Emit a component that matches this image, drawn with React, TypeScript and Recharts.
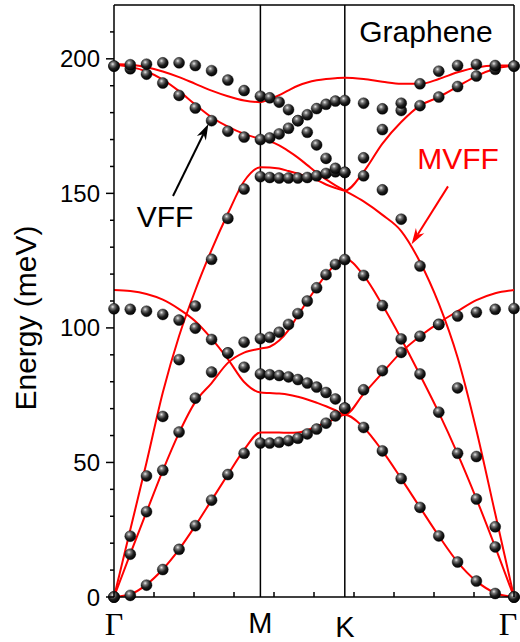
import {
  ComposedChart,
  Line,
  Scatter,
  XAxis,
  YAxis,
  ReferenceLine,
  ReferenceDot,
} from "recharts";

// k-path coordinate along Γ–M–K–Γ, path length normalised to 1
const kPath = [
  0, 0.0407, 0.0813, 0.122, 0.1627, 0.2033, 0.244, 0.2847, 0.3253, 0.366,
  0.3894, 0.4129, 0.4363, 0.4597, 0.4832, 0.5066, 0.5301, 0.5535, 0.577,
  0.624, 0.671, 0.718, 0.765, 0.812, 0.859, 0.906, 0.953, 1.0,
];

const symmetryX = [0, 0.366, 0.577, 1];
const symmetryLabels = ["Γ", "M", "K", "Γ"];
const minorX = [0, 0.1, 0.2, 0.3, 0.4, 0.5, 0.6, 0.7, 0.8, 0.9, 1];
const energyTicks = [0, 10, 20, 30, 40, 50, 60, 70, 80, 90, 100, 110, 120, 130, 140, 150, 160, 170, 180, 190, 200, 210];

// VFF phonon energies (meV), one value per k-point
const vffZA = [0, 0.6, 4.4, 10.2, 17.7, 26.5, 36.0, 45.5, 53.4, 57.2, 57.2, 57.5, 58.1, 59.0, 60.6, 62.4, 64.6, 67.3, 70.2, 63.0, 54.3, 44.0, 33.3, 22.7, 13.0, 5.9, 1.3, 0];
const vffTA = [0, 15.9, 31.7, 47.1, 61.3, 73.9, 83.6, 90.7, 94.7, 96.0, 96.5, 98.4, 101.3, 105.3, 110.0, 114.9, 119.8, 123.6, 125.4, 119.5, 108.3, 95.9, 82.9, 68.7, 53.4, 36.4, 18.6, 0];
const vffLA = [0, 22.6, 45.0, 67.1, 88.2, 108.1, 125.5, 140.7, 151.6, 156.2, 155.9, 155.7, 155.7, 155.7, 155.9, 156.5, 157.4, 158.0, 157.8, 156.5, 151.3, 140.4, 123.0, 101.3, 77.7, 52.2, 26.1, 0];
const vffZO = [107.1, 106.9, 106.2, 105.0, 102.9, 99.9, 95.7, 90.7, 85.4, 82.9, 82.6, 82.3, 81.8, 80.8, 79.5, 78.0, 76.0, 73.6, 70.2, 77.0, 84.1, 90.9, 96.9, 101.3, 104.4, 105.8, 106.9, 107.2];
const vffTO = [197.3, 196.3, 194.3, 191.0, 186.4, 181.7, 177.0, 173.1, 170.9, 170.0, 170.6, 172.1, 174.2, 177.0, 179.2, 181.5, 183.1, 184.3, 184.5, 183.5, 181.4, 180.8, 182.6, 185.8, 189.7, 193.6, 196.1, 197.3];
const vffLO = [197.3, 197.8, 198.0, 198.5, 198.5, 197.5, 195.6, 192.1, 188.2, 186.1, 185.5, 183.9, 181.1, 177.0, 172.7, 168.0, 163.0, 159.3, 157.8, 163.2, 173.7, 183.5, 190.7, 195.4, 197.5, 197.9, 197.5, 197.3];

// MVFF branches (meV) on the same k-points
const mvffZA = [0, 1.0, 4.6, 10.3, 17.7, 26.5, 36.0, 45.5, 54.7, 61.1, 61.1, 61.1, 61.0, 61.1, 62.0, 63.4, 64.8, 66.2, 67.7, 63.0, 54.3, 44.0, 33.3, 22.7, 13.0, 5.9, 1.5, 0];
const mvffTA = [0, 16.0, 31.6, 47.0, 61.0, 72.5, 79.5, 87.0, 90.8, 92.3, 93.0, 95.3, 99.2, 104.6, 110.0, 115.0, 119.8, 123.6, 125.7, 119.5, 108.5, 96.0, 82.5, 68.5, 53.2, 36.5, 18.6, 0];
const mvffLA = [0, 25.0, 50.0, 76.0, 97.0, 114.0, 129.0, 142.5, 154.5, 159.7, 159.6, 159.2, 158.3, 157.3, 156.3, 155.0, 153.3, 152.0, 151.0, 158.0, 168.5, 176.5, 182.6, 185.8, 189.7, 193.6, 196.3, 197.5];
const mvffZO = [114.1, 113.7, 112.6, 110.5, 107.0, 102.5, 96.0, 88.4, 79.9, 76.0, 75.8, 75.6, 75.2, 74.4, 73.4, 72.2, 70.9, 69.4, 67.7, 75.5, 83.3, 91.0, 96.9, 101.9, 106.2, 110.3, 112.9, 114.1];
const mvffTO = [197.8, 197.0, 195.3, 192.3, 188.0, 183.0, 178.3, 174.8, 172.1, 170.2, 169.3, 167.8, 165.7, 163.3, 160.5, 157.7, 155.2, 153.0, 151.0, 147.0, 142.0, 136.0, 124.5, 109.0, 89.0, 62.0, 31.0, 0];
const mvffLO = [198.1, 197.8, 196.9, 195.3, 193.2, 190.7, 188.2, 186.1, 184.5, 183.9, 185.0, 186.5, 188.3, 190.0, 191.2, 192.0, 192.5, 192.8, 193.0, 192.5, 191.5, 190.7, 190.7, 192.5, 195.0, 196.8, 197.5, 197.5];

const vffBands = [vffZA, vffTA, vffLA, vffZO, vffTO, vffLO];
const mvffBands = [mvffZA, mvffTA, mvffLA, mvffZO, mvffTO, mvffLO];

const toRows = (band: number[]) => kPath.map((x, i) => ({ x, y: band[i] }));

const SANS = "'Liberation Sans', Arial, Helvetica, sans-serif";
const SERIF = "'Liberation Serif', 'Times New Roman', serif";

const Ball = ({ cx, cy }: any) => (
  <circle cx={cx} cy={cy} r={5.5} fill="url(#ball)" stroke="#000" strokeWidth={0.4} />
);

const EnergyTick = ({ x, y, payload }: any) => {
  const major = payload.value % 50 === 0;
  return (
    <g>
      <line x1={x} x2={x - (major ? 8 : 4)} y1={y} y2={y} stroke="#000" strokeWidth={1.5} />
      {major && (
        <text x={x - 14} y={y} textAnchor="end" dominantBaseline="central" fontSize={24} fill="#000" fontFamily={SANS}>
          {payload.value}
        </text>
      )}
    </g>
  );
};

const PathTick = ({ x, y, payload }: any) => {
  const v = payload.value;
  const idx = symmetryX.indexOf(v);
  const label = idx >= 0 ? symmetryLabels[idx] : null;
  // the closing Γ sits on the right frame, keep it inside the figure
  const lx = idx === symmetryX.length - 1 ? x - 6 : x;
  return (
    <g>
      {minorX.includes(v) && <line x1={x} x2={x} y1={y} y2={y - 5} stroke="#000" strokeWidth={1.5} />}
      {label === "Γ" && (
        <text x={lx} y={y + 38} textAnchor="middle" fontSize={32} fill="#000" fontFamily={SERIF}>
          Γ
        </text>
      )}
      {label && label !== "Γ" && (
        <text x={lx} y={y + (label === "K" ? 40 : 36)} textAnchor="middle" fontSize={29} fill="#000" fontFamily={SANS}>
          {label}
        </text>
      )}
    </g>
  );
};

const EnergyLabel = ({ viewBox }: any) => {
  const cx = viewBox.x + 25;
  const cy = viewBox.y + viewBox.height / 2 + 17;
  return (
    <text x={cx} y={cy} transform={`rotate(-90, ${cx}, ${cy})`} textAnchor="middle" dominantBaseline="central" fontSize={30} fill="#000" fontFamily={SANS}>
      Energy (meV)
    </text>
  );
};

// line with a filled head at its end point
const Arrow = ({ x1, y1, x2, y2, stroke }: any) => {
  const ang = Math.atan2(y2 - y1, x2 - x1);
  const len = 16;
  const half = 5;
  const bx = x2 - len * Math.cos(ang);
  const by = y2 - len * Math.sin(ang);
  const nx = -Math.sin(ang) * half;
  const ny = Math.cos(ang) * half;
  const mx = x2 - len * 0.7 * Math.cos(ang);
  const my = y2 - len * 0.7 * Math.sin(ang);
  return (
    <g>
      <line x1={x1} y1={y1} x2={mx} y2={my} stroke={stroke} strokeWidth={2} />
      <polygon points={`${x2},${y2} ${bx + nx},${by + ny} ${mx},${my} ${bx - nx},${by - ny}`} fill={stroke} />
    </g>
  );
};

const textShape = (value: string, color: string, size: number) => ({ cx, cy }: any) => (
  <text x={cx} y={cy} textAnchor="middle" fontSize={size} fill={color} fontFamily={SANS}>
    {value}
  </text>
);

const App = () => {
  return (
    <div style={{ position: "absolute", left: 0, top: 0, background: "#fff" }}>
      <ComposedChart width={520} height={642} margin={{ top: 5, right: 6, bottom: 0, left: 0 }}>
        <defs>
          <radialGradient id="ball" cx="38%" cy="32%" r="70%">
            <stop offset="0%" stopColor="#e8e8e8" />
            <stop offset="25%" stopColor="#777" />
            <stop offset="60%" stopColor="#1e1e1e" />
            <stop offset="100%" stopColor="#000" />
          </radialGradient>
        </defs>
        <XAxis
          type="number"
          dataKey="x"
          domain={[0, 1]}
          ticks={[0, 0.1, 0.2, 0.3, 0.366, 0.4, 0.5, 0.577, 0.6, 0.7, 0.8, 0.9, 1]}
          interval={0}
          tickSize={0}
          tickMargin={0}
          tickLine={false}
          tick={<PathTick />}
          height={45}
          axisLine={{ stroke: "#000", strokeWidth: 1.5 }}
        />
        <YAxis
          type="number"
          domain={[0, 220]}
          ticks={energyTicks}
          interval={0}
          tickSize={0}
          tickMargin={0}
          tickLine={false}
          tick={<EnergyTick />}
          width={114}
          axisLine={{ stroke: "#000", strokeWidth: 1.5 }}
          label={<EnergyLabel />}
        />
        <ReferenceLine y={220} stroke="#000" strokeWidth={1.5} />
        <ReferenceLine x={1} stroke="#000" strokeWidth={1.5} />
        {symmetryX.slice(1, 3).map((x) => (
          <ReferenceLine key={`sym-${x}`} x={x} stroke="#000" strokeWidth={1.5} />
        ))}
        {mvffBands.map((band, i) => (
          <Line
            key={`mvff-${i}`}
            data={toRows(band)}
            dataKey="y"
            type="monotone"
            stroke="#ff0000"
            strokeWidth={2}
            dot={false}
            activeDot={false}
            isAnimationActive={false}
          />
        ))}
        {vffBands.map((band, i) => (
          <Scatter key={`vff-${i}`} data={toRows(band)} dataKey="y" shape={<Ball />} isAnimationActive={false} />
        ))}
        <ReferenceLine segment={[{ x: 0.1475, y: 149.0 }, { x: 0.236, y: 175.8 }]} stroke="#000" shape={<Arrow />} />
        <ReferenceLine segment={[{ x: 0.835, y: 152.6 }, { x: 0.744, y: 131.1 }]} stroke="#ff0000" shape={<Arrow />} />
        <ReferenceDot x={0.1275} y={137.4} r={0} shape={textShape("VFF", "#000", 30)} />
        <ReferenceDot x={0.86} y={159.1} r={0} shape={textShape("MVFF", "#ff0000", 30)} />
        <ReferenceDot x={0.78} y={206.4} r={0} shape={textShape("Graphene", "#000", 30)} />
      </ComposedChart>
    </div>
  );
};

export default App;
